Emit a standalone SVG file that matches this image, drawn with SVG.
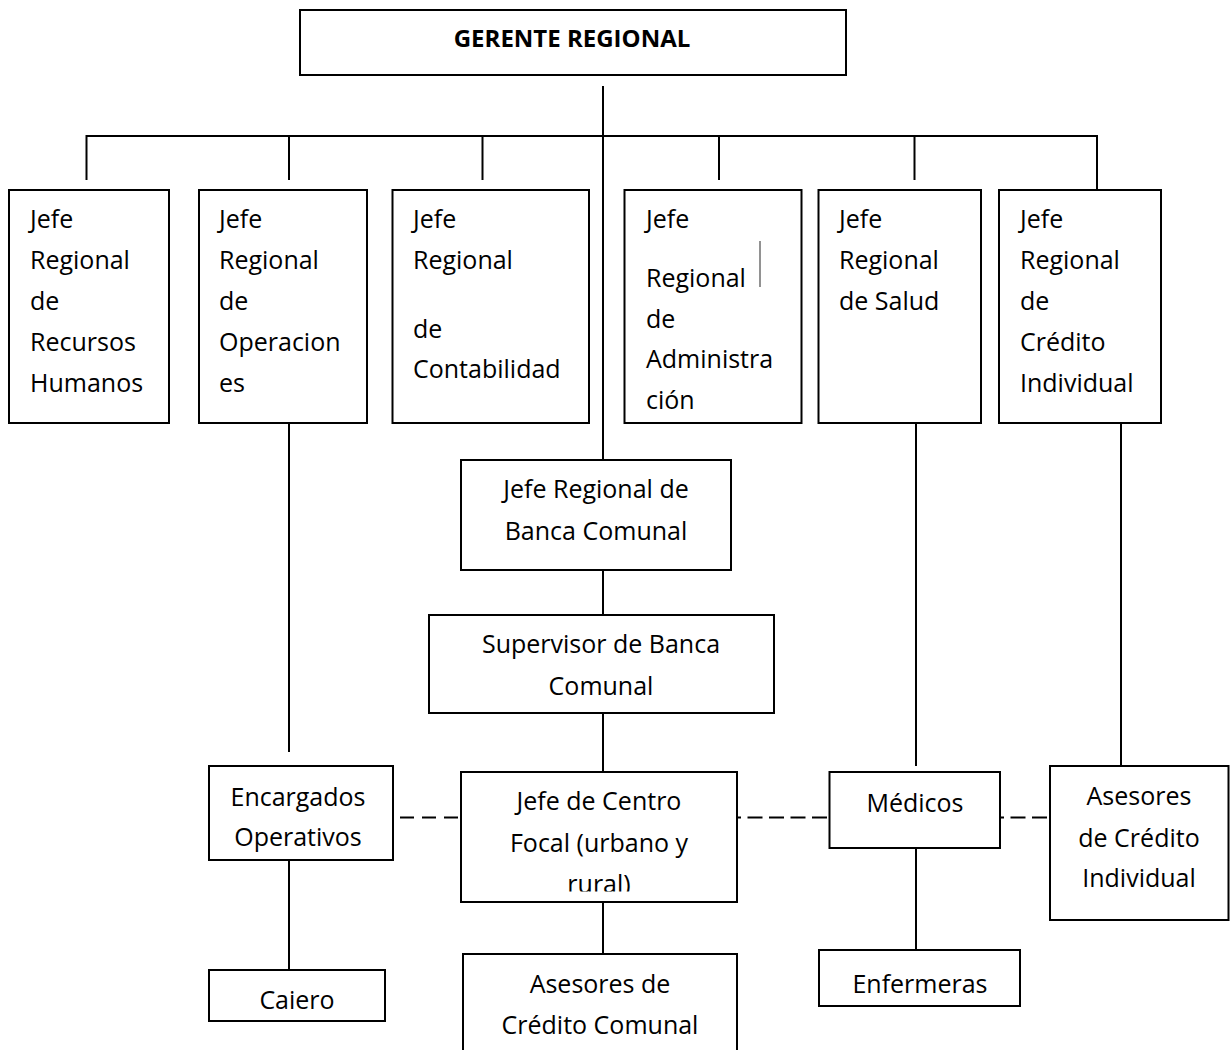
<svg xmlns="http://www.w3.org/2000/svg" width="1230" height="1050" viewBox="0 0 1230 1050">
<style>
.box{fill:#fff;stroke:#000;stroke-width:2}
.t{font-family:"Open Sans","Liberation Sans",sans-serif;font-size:25px;fill:#000}
.c{text-anchor:middle}
.b{font-weight:700;font-size:24px}
.ln{stroke:#000;stroke-width:2;fill:none}
.d1{stroke-dasharray:14 8;stroke-dashoffset:15}
.d2{stroke-dasharray:15 6.5;stroke-dashoffset:11}
</style>
<defs>
<clipPath id="clipRural"><rect x="461" y="772" width="276" height="119.5"/></clipPath>
</defs>
<rect width="1230" height="1050" fill="#fff"/>
<g id="connectors">
<line class="ln" x1="603" y1="86" x2="603" y2="460"/>
<line class="ln" x1="86.5" y1="136" x2="1097" y2="136"/>
<line class="ln" x1="86.5" y1="135" x2="86.5" y2="180"/>
<line class="ln" x1="289" y1="136" x2="289" y2="180"/>
<line class="ln" x1="482.5" y1="136" x2="482.5" y2="180"/>
<line class="ln" x1="719" y1="136" x2="719" y2="180"/>
<line class="ln" x1="914.5" y1="136" x2="914.5" y2="180"/>
<line class="ln" x1="1097" y1="135" x2="1097" y2="190"/>
<line class="ln" x1="289" y1="423" x2="289" y2="752"/>
<line class="ln" x1="916" y1="423" x2="916" y2="766"/>
<line class="ln" x1="1121" y1="423" x2="1121" y2="766"/>
<line class="ln" x1="603" y1="570" x2="603" y2="615"/>
<line class="ln" x1="603" y1="713" x2="603" y2="772"/>
<line class="ln" x1="603" y1="902" x2="603" y2="954"/>
<line class="ln" x1="289" y1="860" x2="289" y2="970"/>
<line class="ln" x1="916" y1="848" x2="916" y2="950"/>
<line class="ln d1" x1="393" y1="817.5" x2="461" y2="817.5"/>
<line class="ln d2" x1="737" y1="817.5" x2="829.5" y2="817.5"/>
<line class="ln d2" x1="1000" y1="817.5" x2="1050" y2="817.5"/>
</g>
<g id="gerente">
<rect class="box" x="300" y="10" width="546" height="65"/>
<text class="t b c" x="572" y="47">GERENTE REGIONAL</text>
</g>
<g id="rrhh">
<rect class="box" x="9" y="190" width="160" height="233"/>
<text class="t" x="30" y="228">Jefe</text>
<text class="t" x="30" y="269">Regional</text>
<text class="t" x="30" y="310">de</text>
<text class="t" x="30" y="351">Recursos</text>
<text class="t" x="30" y="392">Humanos</text>
</g>
<g id="operaciones">
<rect class="box" x="199" y="190" width="168" height="233"/>
<text class="t" x="219" y="228">Jefe</text>
<text class="t" x="219" y="269">Regional</text>
<text class="t" x="219" y="310">de</text>
<text class="t" x="219" y="351">Operacion</text>
<text class="t" x="219" y="392">es</text>
</g>
<g id="contabilidad">
<rect class="box" x="392.5" y="190" width="196.5" height="233"/>
<text class="t" x="413" y="228">Jefe</text>
<text class="t" x="413" y="269">Regional</text>
<text class="t" x="413" y="338">de</text>
<text class="t" x="413" y="378">Contabilidad</text>
</g>
<g id="administracion">
<rect class="box" x="624.5" y="190" width="177" height="233"/>
<text class="t" x="646" y="228">Jefe</text>
<text class="t" x="646" y="287">Regional</text>
<line x1="760" y1="241" x2="760" y2="287" stroke="#6e6e6e" stroke-width="1.5"/>
<text class="t" x="646" y="328">de</text>
<text class="t" x="646" y="368">Administra</text>
<text class="t" x="646" y="409">ción</text>
</g>
<g id="salud">
<rect class="box" x="818.5" y="190" width="162.5" height="233"/>
<text class="t" x="839" y="228">Jefe</text>
<text class="t" x="839" y="269">Regional</text>
<text class="t" x="839" y="310">de Salud</text>
</g>
<g id="credito">
<rect class="box" x="999" y="190" width="162" height="233"/>
<text class="t" x="1020" y="228">Jefe</text>
<text class="t" x="1020" y="269">Regional</text>
<text class="t" x="1020" y="310">de</text>
<text class="t" x="1020" y="351">Crédito</text>
<text class="t" x="1020" y="392">Individual</text>
</g>
<g id="banca">
<rect class="box" x="461" y="460" width="270" height="110"/>
<text class="t c" x="596" y="498">Jefe Regional de</text>
<text class="t c" x="596" y="540">Banca Comunal</text>
</g>
<g id="supervisor">
<rect class="box" x="429" y="615" width="345" height="98"/>
<text class="t c" x="601" y="653">Supervisor de Banca</text>
<text class="t c" x="601" y="695">Comunal</text>
</g>
<g id="centro">
<rect class="box" x="461" y="772" width="276" height="130"/>
<text class="t c" x="599" y="810">Jefe de Centro</text>
<text class="t c" x="599" y="852">Focal (urbano y</text>
<text class="t c" x="599" y="893" clip-path="url(#clipRural)">rural)</text>
</g>
<g id="encargados">
<rect class="box" x="209" y="766" width="184" height="94"/>
<text class="t c" x="298" y="806">Encargados</text>
<text class="t c" x="298" y="846">Operativos</text>
</g>
<g id="caiero">
<rect class="box" x="209" y="970" width="176" height="51"/>
<text class="t c" x="297" y="1009">Caiero</text>
</g>
<g id="asesores-comunal">
<rect class="box" x="463" y="954" width="274" height="120"/>
<text class="t c" x="600" y="993">Asesores de</text>
<text class="t c" x="600" y="1034">Crédito Comunal</text>
</g>
<g id="medicos">
<rect class="box" x="829.5" y="772" width="170.5" height="76"/>
<text class="t c" x="915" y="812">Médicos</text>
</g>
<g id="asesores-individual">
<rect class="box" x="1050" y="766" width="178.5" height="154"/>
<text class="t c" x="1139" y="805">Asesores</text>
<text class="t c" x="1139" y="847">de Crédito</text>
<text class="t c" x="1139" y="887">Individual</text>
</g>
<g id="enfermeras">
<rect class="box" x="819" y="950" width="201" height="56"/>
<text class="t c" x="920" y="993">Enfermeras</text>
</g>
</svg>
